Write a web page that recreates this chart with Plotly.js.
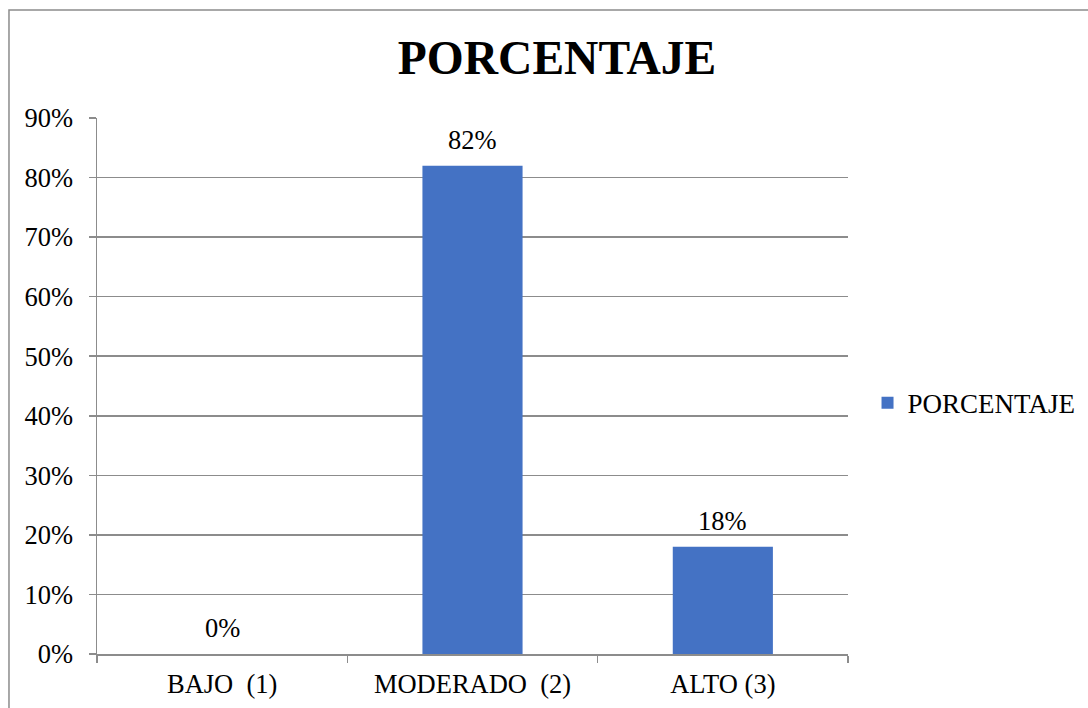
<!DOCTYPE html>
<html>
<head>
<meta charset="utf-8">
<script src="https://cdn.plot.ly/plotly-3.0.1.min.js"></script>
<style>
html,body{margin:0;padding:0;background:#fff;}
#chart{width:1088px;height:708px;}
</style>
</head>
<body>
<div id="chart"></div>
<script>
const categories = ['BAJO  (1)', 'MODERADO  (2)', 'ALTO (3)'];
const values = [0.00, 0.82, 0.18];
const seriesName = 'PORCENTAJE';
const chartTitle = 'PORCENTAJE';

const FONT = '"Liberation Serif", "Times New Roman", serif';
const GRID = '#8c8c8c';
const FS = 26.5;

const trace = {
  type: 'bar',
  x: categories,
  y: values,
  name: seriesName,
  marker: {color: '#4472C4'},
  hoverinfo: 'none'
};

const annotations = categories.map((c, i) => ({
  x: c,
  y: values[i],
  xref: 'x',
  yref: 'y',
  text: Math.round(values[i] * 100) + '%',
  showarrow: false,
  yanchor: 'bottom',
  yshift: 9,
  font: {family: FONT, size: FS, color: '#000'}
}));

const layout = {
  width: 1088,
  height: 708,
  margin: {l: 97, r: 240, t: 118, b: 54, autoexpand: false},
  paper_bgcolor: '#fff',
  plot_bgcolor: '#fff',
  font: {family: FONT, size: FS, color: '#000'},
  title: {
    text: '<b>' + chartTitle + '</b>',
    font: {family: FONT, size: 47.5, color: '#000'},
    x: 0.512,
    xanchor: 'center',
    xref: 'container',
    y: 0.919,
    yanchor: 'middle',
    yref: 'container'
  },
  bargap: 0.6,
  showlegend: true,
  legend: {
    x: 1.026,
    xanchor: 'left',
    y: 0.468,
    yanchor: 'middle',
    font: {family: FONT, size: 27, color: '#000'},
    bgcolor: 'rgba(0,0,0,0)'
  },
  xaxis: {
    type: 'category',
    showline: true,
    linecolor: GRID,
    linewidth: 1.5,
    ticks: 'outside',
    tickson: 'boundaries',
    ticklen: 7,
    tickcolor: GRID,
    tickwidth: 1.5,
    showgrid: false,
    ticklabelstandoff: 6,
    tickfont: {family: FONT, size: FS, color: '#000'},
    fixedrange: true
  },
  yaxis: {
    range: [0, 0.9],
    dtick: 0.1,
    tick0: 0,
    tickformat: '.0%',
    showline: true,
    linecolor: GRID,
    linewidth: 1.5,
    ticks: 'outside',
    ticklen: 7,
    tickcolor: GRID,
    tickwidth: 1.5,
    showgrid: true,
    gridcolor: GRID,
    gridwidth: 1.5,
    zeroline: false,
    ticklabelstandoff: 10,
    tickfont: {family: FONT, size: FS, color: '#000'},
    fixedrange: true
  },
  annotations: annotations,
  shapes: [{
    type: 'rect',
    xref: 'paper', yref: 'paper',
    x0: -0.1172, x1: 1.34,
    y0: -0.13, y1: 1.2015,
    line: {color: '#8c8c8c', width: 1.5},
    fillcolor: 'rgba(0,0,0,0)',
    layer: 'below'
  }]
};

Plotly.newPlot('chart', [trace], layout, {displayModeBar: false, staticPlot: true});
</script>
</body>
</html>
